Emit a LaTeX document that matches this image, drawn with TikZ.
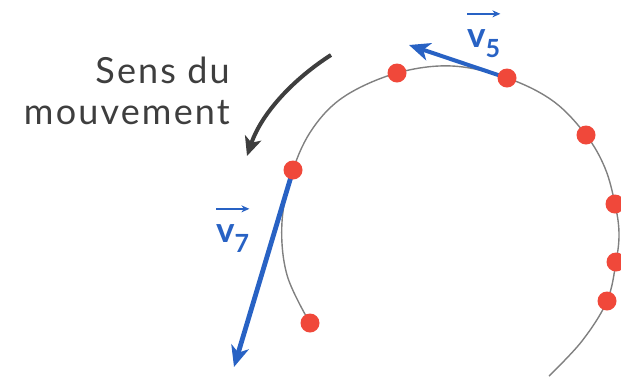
\documentclass[tikz,border=0pt]{standalone}
\usepackage{fontspec}
\setmainfont{Lato}
\newfontfamily\lblfont[LetterSpace=6]{Lato}
\usetikzlibrary{arrows.meta}
\definecolor{dotred}{RGB}{240,72,58}
\definecolor{vecblue}{RGB}{40,98,196}
\definecolor{txtgray}{RGB}{62,62,62}
\definecolor{pathgray}{RGB}{128,128,128}
\begin{document}
\begin{tikzpicture}[x=1pt,y=-1pt,
  dot/.style={circle,fill=dotred,inner sep=0pt,minimum size=19pt},
  traj/.style={pathgray,line width=1.4pt},
  vecarrow/.style={vecblue,line width=4.8pt,-{Stealth[length=21pt,width=18pt,inset=6pt]}},
  vlab/.style={text=vecblue,inner sep=0pt,font=\fontsize{35}{35}\selectfont\bfseries},
  vbar/.style={vecblue,line width=1.8pt,-{Stealth[length=8pt,width=7pt]}},
  move/.style={txtgray,line width=4pt,-{Stealth[length=19pt,width=17pt,inset=5pt]}},
  txt/.style={text=txtgray,inner sep=0pt,align=right,font=\lblfont\fontsize{36}{41}\selectfont}]
\useasboundingbox (0,0) rectangle (621,376);
\clip (0,0) rectangle (621,376);
% positions
\coordinate (c1) at (310,323);
\coordinate (c2) at (293,170);
\coordinate (c3) at (397,73);
\coordinate (c4) at (507,78);
\coordinate (c5) at (586,135);
\coordinate (c6) at (615,204);
\coordinate (c7) at (616,262);
\coordinate (c8) at (607,301);
\coordinate (start) at (549,376);
% trajectory
\draw[traj] plot[smooth,tension=0.6] coordinates {(start) (582,341) (c8) (c7) (619,233) (c6) (605,168) (c5) (553,101) (c4) (452,66) (c3) (345,96) (313,128) (c2) (282,222) (287,275) (c1)};
% velocity vectors
\coordinate (t5) at (409,45);
\coordinate (t7) at (234,367);
\draw[vecarrow,line width=4pt] (c4) -- (t5);
\draw[vecarrow] (c2) -- (t7);
% dots
\foreach \i in {1,...,8} \node[dot] (p\i) at (c\i) {};
% labels
\node[vlab,anchor=base west] (v5lab) at (467,47) {v\raisebox{-0.3em}{\fontsize{25}{25}\selectfont 5}};
\draw[vbar] ([yshift=15pt]v5lab.north west) -- ([yshift=15pt]v5lab.north east);
\node[vlab,anchor=base west] (v7lab) at (216,242) {v\raisebox{-0.3em}{\fontsize{25}{25}\selectfont 7}};
\draw[vbar] ([yshift=15pt]v7lab.north west) -- ([yshift=15pt]v7lab.north east);
% sens du mouvement
\node[txt,anchor=north east] (lab) at (230,57) {Sens du\\mouvement};
\coordinate (m1) at (331,55);
\coordinate (m2) at (247,156);
\draw[move] (m1) .. controls (295,78) and (262,112) .. (m2);
\end{tikzpicture}
\end{document}
